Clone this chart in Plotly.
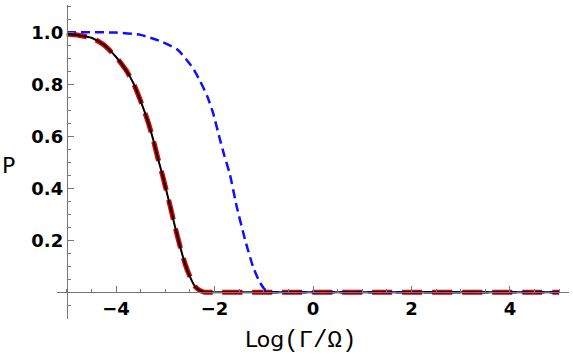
import plotly.graph_objects as go

# Black solid curve (and red dashed overlay) : Log(Γ/Ω) vs P
x_black = [-5.0, -4.75, -4.5, -4.25, -4.0, -3.8, -3.65, -3.5, -3.35, -3.25, -3.15, -3.05,
           -2.9, -2.8, -2.7, -2.6, -2.5, -2.4, -2.3, -2.2, -2.0, 5.0]
p_black = [0.993, 0.988, 0.979, 0.952, 0.905, 0.855, 0.805, 0.735, 0.655, 0.59, 0.515, 0.445,
           0.33, 0.25, 0.176, 0.11, 0.06, 0.023, 0.007, 0.0, 0.0, 0.0]

x_red = list(x_black)
p_red = list(p_black)

# Blue dashed curve
x_blue = [-5.0, -4.0, -3.5, -3.1, -2.75, -2.45, -2.3, -2.15, -2.03, -1.9, -1.8, -1.69,
          -1.55, -1.38, -1.22, -1.1, -1.0, -0.92, -0.8, 5.0]
p_blue = [1.0, 0.999, 0.99, 0.966, 0.933, 0.865, 0.815, 0.755, 0.69, 0.595, 0.525, 0.455,
          0.33, 0.202, 0.099, 0.045, 0.015, 0.0, 0.0, 0.0]

x_ticks = [-4, -2, 0, 2, 4]
x_ticktext = ["\u22124", "\u22122", "0", "2", "4"]
y_ticks = [0.2, 0.4, 0.6, 0.8, 1.0]
y_ticktext = ["0.2", "0.4", "0.6", "0.8", "1.0"]

XR = [-5.2, 5.2]
YR = [-0.103, 1.105]

fig = go.Figure()
fig.add_trace(go.Scatter(x=x_red, y=p_red, mode="lines",
                         line=dict(color="#e00000", width=5, dash="20px,10px",
                                   shape="spline", smoothing=0.5),
                         showlegend=False))
fig.add_trace(go.Scatter(x=x_blue, y=p_blue, mode="lines",
                         line=dict(color="#1010ff", width=2.5, dash="9px,5px",
                                   shape="spline", smoothing=0.5),
                         showlegend=False))
fig.add_trace(go.Scatter(x=x_black, y=p_black, mode="lines",
                         line=dict(color="black", width=2, shape="spline", smoothing=0.5),
                         showlegend=False))

tickfont = dict(family="DejaVu Sans", size=18, color="black", weight="bold")
axcol = "#777777"

fig.update_layout(
    width=573, height=357,
    margin=dict(l=57, r=4, t=5, b=38),
    plot_bgcolor="white", paper_bgcolor="white",
    xaxis=dict(range=XR, showgrid=False, zeroline=False,
               showline=True, linecolor=axcol, linewidth=1,
               anchor="free", position=(0 - YR[0]) / (YR[1] - YR[0]),
               tickmode="array", tickvals=x_ticks, ticktext=x_ticktext,
               ticks="inside", ticklen=6, tickcolor=axcol, tickwidth=1,
               tickfont=tickfont,
               minor=dict(tickmode="linear", tick0=0, dtick=0.5, ticks="inside",
                          ticklen=3, tickcolor=axcol, tickwidth=1)),
    yaxis=dict(range=YR, showgrid=False, zeroline=False,
               showline=True, linecolor=axcol, linewidth=1,
               anchor="free", position=(-5 - XR[0]) / (XR[1] - XR[0]),
               tickmode="array", tickvals=y_ticks, ticktext=y_ticktext,
               ticks="inside", ticklen=6, tickcolor=axcol, tickwidth=1,
               tickfont=tickfont,
               minor=dict(tickmode="linear", tick0=0, dtick=0.05, ticks="inside",
                          ticklen=3, tickcolor=axcol, tickwidth=1)),
    annotations=[
        dict(text="P", x=(8.5 - 57) / 512, y=(319 - 165) / 314,
             xref="paper", yref="paper",
             showarrow=False, xanchor="center", yanchor="middle",
             font=dict(family="DejaVu Sans", size=22, color="black")),
        dict(text='Log<span style="font-family:Liberation Mono;font-size:24px">(\u0393/\u03a9)</span>',
             x=(300 - 57) / 512, y=(319 - 340) / 314, xref="paper", yref="paper",
             showarrow=False, xanchor="center", yanchor="middle",
             font=dict(family="DejaVu Sans", size=22, color="black")),
    ],
)

fig.write_html("out.html")
